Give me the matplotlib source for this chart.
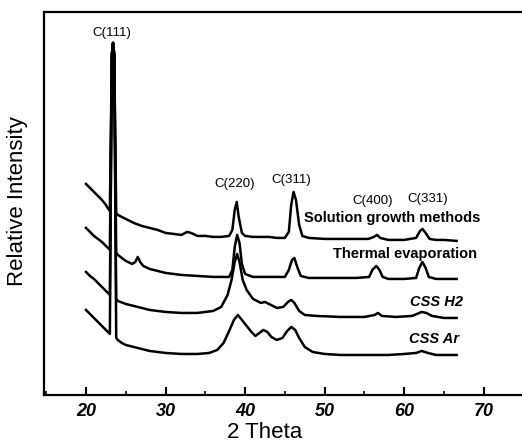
import matplotlib
matplotlib.use("Agg")
import matplotlib.pyplot as plt
from matplotlib.ticker import MultipleLocator

plt.rcParams['font.family'] = ['Liberation Sans', 'DejaVu Sans']

# XRD patterns (2 theta, relative intensity)
sol_x = [20.0, 20.5, 21.0, 21.5, 22.0, 22.5, 22.8, 23.0, 23.25, 23.4, 23.55, 23.8,
         24.0, 25, 26, 27, 28, 29, 30, 31, 32, 32.7, 33.2, 34, 35, 36, 37, 38,
         38.4, 38.7, 38.95, 39.2, 39.6, 40, 41, 42, 43, 44, 45, 45.5, 45.8, 46.1,
         46.4, 46.8, 47.2, 48, 50, 52, 54, 55.5, 56.2, 56.6, 57.0, 58, 60, 61.5,
         62.0, 62.3, 62.7, 63.2, 64, 65, 66.6]
sol_y = [211, 207, 203, 199, 195, 190, 186, 184, 340, 352, 340, 182,
         180, 176, 172, 169, 167, 165, 162, 161, 160, 163, 162, 159, 159, 158, 158, 159,
         165, 185, 193, 178, 162, 159, 158, 158, 158, 157, 157, 163, 190, 203,
         195, 170, 159, 157, 156, 156, 156, 156, 158, 160, 157, 155, 155, 157,
         164, 166, 162, 156, 155, 155, 154]

therm_x = [20.0, 20.5, 21.0, 21.5, 22.0, 22.5, 22.9, 23.0, 23.25, 23.4, 23.55, 23.8,
           24.0, 24.5, 25, 25.8, 26.2, 26.5, 26.8, 27.2, 28, 29, 30, 32, 34, 36, 38,
           38.4, 38.7, 39.0, 39.3, 39.6, 40, 41, 43, 45, 45.5, 45.9, 46.2, 46.6, 47,
           48, 50, 52, 54, 55.6, 56.0, 56.5, 56.9, 57.3, 58, 60, 61.5, 61.9, 62.3,
           62.7, 63.1, 64, 66.6]
therm_y = [167, 163, 159, 156, 153, 149, 146, 145, 340, 352, 340, 142,
           140, 137, 134, 131, 133, 138, 133, 129, 126, 124, 122, 120, 119, 118, 118,
           125, 148, 160, 152, 131, 121, 118, 118, 118, 125, 135, 137, 127, 119,
           117, 117, 117, 117, 118, 125, 129, 125, 118, 116, 116, 117, 127, 133,
           127, 118, 116, 116]

h2_x = [20.0, 20.5, 21.0, 21.5, 22.0, 22.5, 22.9, 23.0, 23.25, 23.4, 23.55, 23.8,
        24, 25, 26, 27, 28, 30, 32, 34, 35, 36, 37, 37.8, 38.3, 38.7, 39.0, 39.3,
        39.7, 40.2, 41, 42, 42.5, 43, 44, 44.8, 45.4, 45.8, 46.2, 46.8, 47.5, 49,
        52, 55, 56.3, 56.7, 57.2, 59, 61, 62.2, 62.8, 63.5, 65, 66.6]
h2_y = [123, 119, 116, 112, 108, 104, 101, 100, 340, 352, 340, 96,
        94, 91, 89, 87, 85, 83, 82, 82, 83, 84, 88, 100, 115, 133, 141, 133,
        115, 105, 96, 92, 93, 91, 87, 88, 93, 95, 92, 84, 80, 79,
        78, 78, 80, 82, 79, 78, 79, 83, 82, 79, 77, 77]

ar_x = [20.0, 20.5, 21.0, 21.5, 22.0, 22.5, 22.9, 23.0, 23.25, 23.4, 23.55, 23.8,
        24.0, 24.5, 25, 26, 27, 28, 30, 32, 34, 35.5, 36.5, 37.3, 38, 38.6, 39.1,
        39.6, 40.2, 40.8, 41.3, 41.8, 42.3, 42.8, 43.3, 44.0, 44.7, 45.3, 45.8,
        46.3, 46.8, 47.5, 48.5, 50, 52, 55, 58, 60, 61.5, 62.2, 63, 64, 66.6]
ar_y = [85, 81, 77, 73, 69, 65, 62, 61, 340, 352, 340, 57,
        55, 52, 50, 48, 46, 44, 42, 41, 41, 42, 45, 52, 64, 75, 80,
        75, 69, 63, 59, 62, 65, 63, 58, 55, 57, 64, 68,
        65, 57, 48, 43, 41, 40, 40, 40, 41, 42, 44, 42, 40, 40]

curve_names = ['Solution growth methods', 'Thermal evaporation', 'CSS H2', 'CSS Ar']
name_pos = [(69.55, 177), (69.2, 141), (67.4, 93), (66.9, 56)]
name_style = ['normal', 'normal', 'italic', 'italic']

peak_labels = ['C(111)', 'C(220)', 'C(311)', 'C(400)', 'C(331)']
peak_pos = [(23.2, 362), (38.7, 211), (45.8, 215), (56.0, 194), (62.9, 196)]

fig = plt.figure(figsize=(5.22, 4.45), dpi=100)
ax = fig.add_axes([0.0843, 0.1124, 0.92, 0.861])

for xs, ys in [(sol_x, sol_y), (therm_x, therm_y), (h2_x, h2_y), (ar_x, ar_y)]:
    ax.plot(xs, ys, color='black', lw=1.8, solid_joinstyle='round')

for name, (x, y), st in zip(curve_names, name_pos, name_style):
    ax.text(x, y, name, ha='right', va='center', fontsize=10.5,
            fontweight='bold', fontstyle=st)

for lab, (x, y) in zip(peak_labels, peak_pos):
    ax.text(x, y, lab, ha='center', va='center', fontsize=9.5)

ax.set_xlim(14.72, 75.1)
ax.set_ylim(0, 383)
ax.xaxis.set_major_locator(MultipleLocator(10))
ax.xaxis.set_minor_locator(MultipleLocator(5))
ax.tick_params(axis='x', which='major', direction='in', length=6, width=1.5,
               labelsize=13, pad=6, top=False)
ax.tick_params(axis='x', which='minor', direction='in', length=3, width=1.2,
               top=False)
for lab in ax.get_xticklabels():
    lab.set_fontstyle('italic')
    lab.set_fontweight('bold')
ax.set_yticks([])
for s in ax.spines.values():
    s.set_linewidth(1.6)

ax.set_xlabel('2 Theta', fontsize=16)
ax.xaxis.set_label_coords(0.46, -0.07)
ax.set_ylabel('Relative Intensity', fontsize=16)
ax.yaxis.set_label_coords(-0.033, 0.507)

fig.savefig('out.png', dpi=100)
